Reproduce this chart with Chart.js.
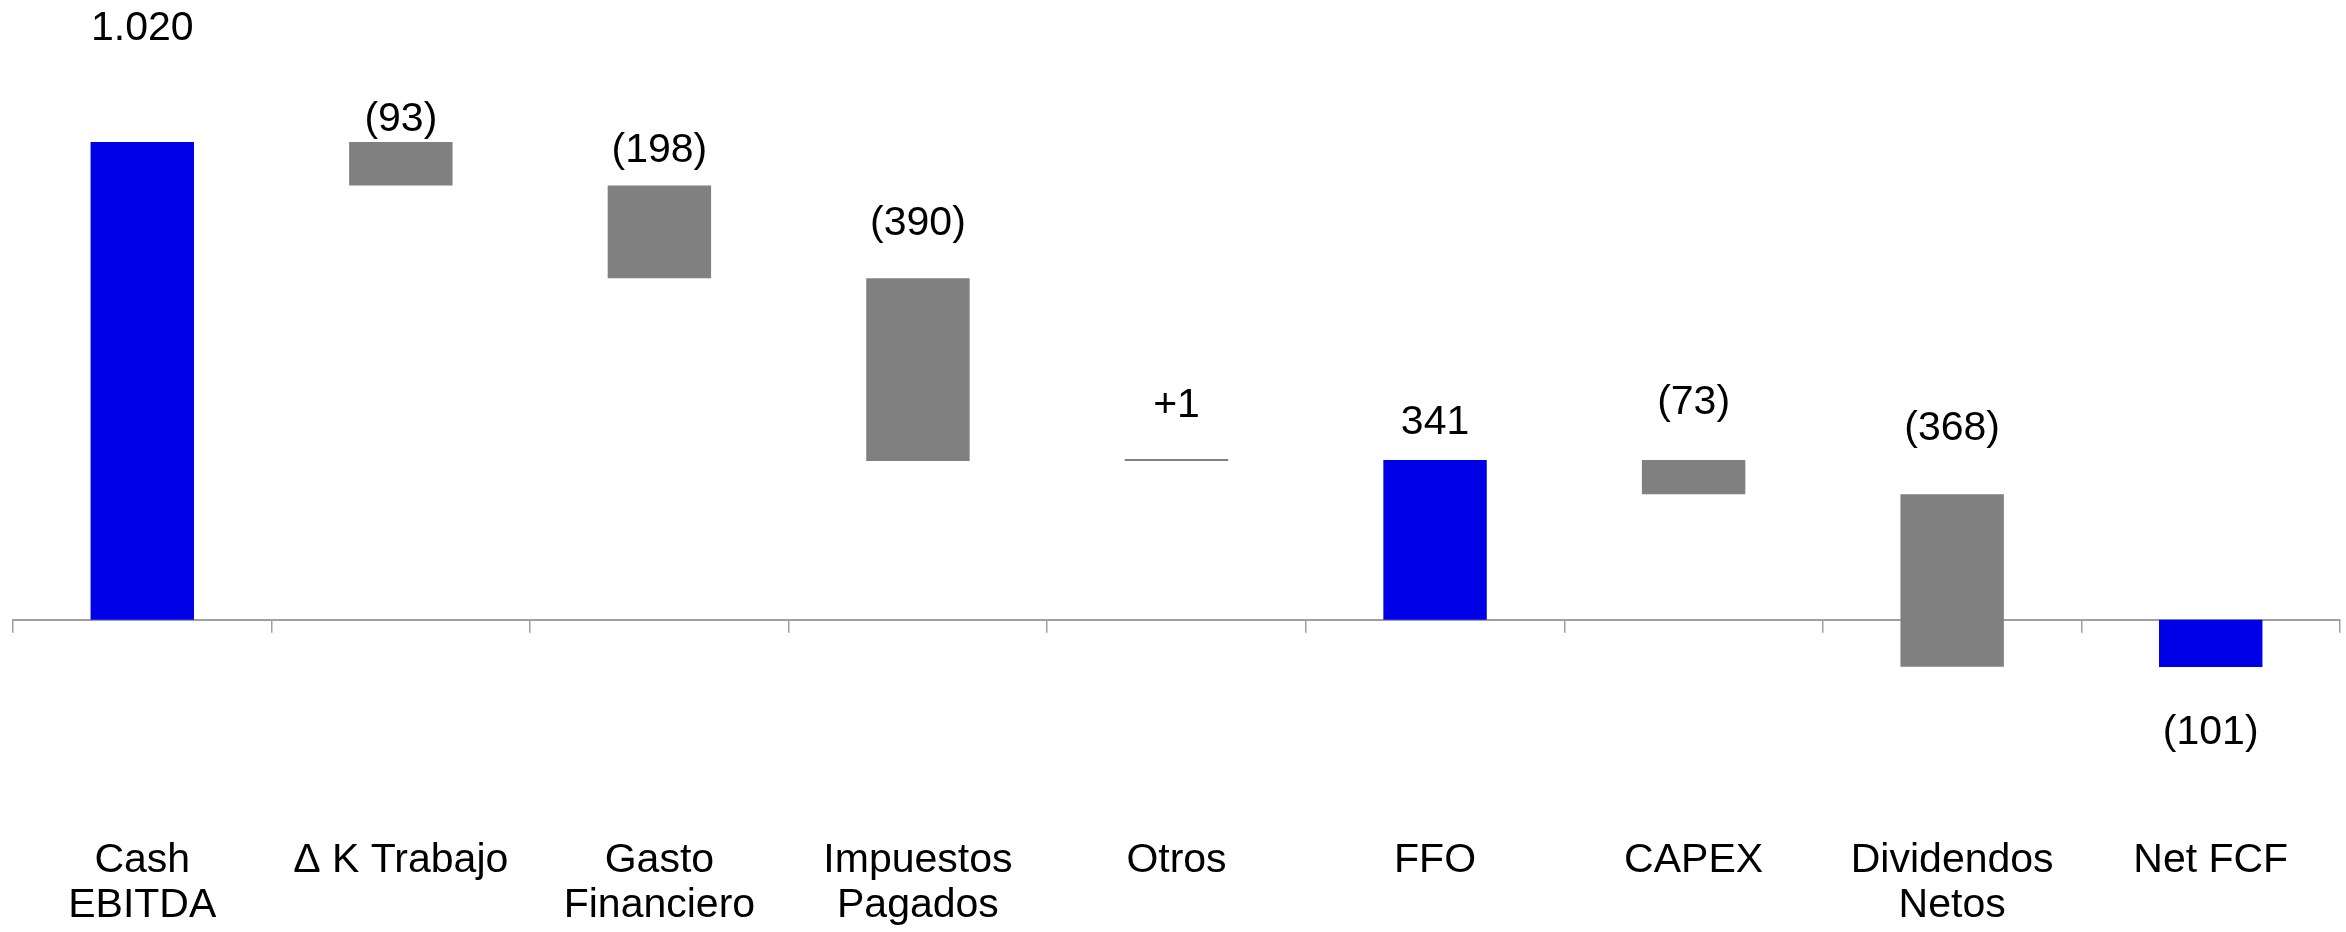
<!DOCTYPE html>
<html>
<head>
<meta charset="utf-8">
<script src="https://cdn.jsdelivr.net/npm/chart.js@4.4.0/dist/chart.umd.min.js"></script>
<style>
  html, body { margin: 0; padding: 0; background: #fff; }
  #wrap { width: 2346px; height: 932px; position: relative; }
</style>
</head>
<body>
<div id="wrap"><canvas id="waterfallChart"></canvas></div>
<script>
// categories and values
const categories = [['Cash', 'EBITDA'], ['\u0394 K Trabajo'], ['Gasto', 'Financiero'], ['Impuestos', 'Pagados'], ['Otros'], ['FFO'], ['CAPEX'], ['Dividendos', 'Netos'], ['Net FCF']];
const values = [1020, -93, -198, -390, 1, 341, -73, -368, -101];
const isTotal = [true, false, false, false, false, true, false, false, true];
// distance of each value label from its bar edge
const labelGap = [113, 22, 35, 55, 53, 37, 57, 66, 66];

const BLUE = '#0000e6';
const GREY = '#808080';
const TICK_LEN = 13;
const LABEL_PAD = 205;

// build floating bars for the waterfall
let running = 0;
const ranges = values.map((v, i) => {
    if (isTotal[i]) {
        running = v;
        return [0, v];
    }
    const start = running;
    running = running + v;
    return [start, running];
});

function formatValue(v, total) {
    const s = Math.abs(v).toString().replace(/\B(?=(\d{3})+(?!\d))/g, '.');
    if (v < 0) return '(' + s + ')';
    if (!total) return '+' + s;
    return s;
}

const valueLabels = {
    id: 'valueLabels',
    afterDatasetsDraw(chart) {
        const ctx = chart.ctx;
        const meta = chart.getDatasetMeta(0);
        ctx.save();
        ctx.font = '41px "Liberation Sans", Arial, sans-serif';
        ctx.fillStyle = '#000';
        ctx.textAlign = 'center';
        ctx.textBaseline = 'middle';
        meta.data.forEach((bar, i) => {
            const top = Math.min(bar.y, bar.base);
            const bottom = Math.max(bar.y, bar.base);
            const below = isTotal[i] && values[i] < 0;
            const y = below ? bottom + labelGap[i] : top - labelGap[i];
            ctx.fillText(formatValue(values[i], isTotal[i]), bar.x, y);
        });
        ctx.restore();
    }
};

const ctx = document.getElementById('waterfallChart').getContext('2d');
new Chart(ctx, {
    type: 'bar',
    data: {
        labels: categories,
        datasets: [{
            data: ranges,
            backgroundColor: isTotal.map(t => t ? BLUE : GREY),
            borderWidth: 0,
            borderSkipped: false,
            categoryPercentage: 1,
            barPercentage: 0.4,
            minBarLength: 2,
            clip: false
        }]
    },
    options: {
        responsive: true,
        maintainAspectRatio: false,
        animation: false,
        layout: { padding: { left: 13, right: 6, top: 0, bottom: 4 } },
        plugins: {
            legend: { display: false },
            tooltip: { enabled: false }
        },
        scales: {
            x: {
                position: 'bottom',
                offset: true,
                grid: {
                    offset: true,
                    drawOnChartArea: false,
                    drawTicks: true,
                    tickLength: TICK_LEN,
                    color: '#a0a0a0',
                    lineWidth: 1.5
                },
                border: { display: true, color: '#a0a0a0', width: 2 },
                ticks: {
                    color: '#000',
                    padding: LABEL_PAD,
                    maxRotation: 0,
                    autoSkip: false,
                    font: { family: '"Liberation Sans", Arial, sans-serif', size: 41, lineHeight: 1.1 }
                },
                // the big label padding should only push labels down, not widen the axis
                afterFit(scale) {
                    scale.height = TICK_LEN + LABEL_PAD + 2 * 41 * 1.1;
                    scale.paddingLeft = 0;
                    scale.paddingRight = 0;
                }
            },
            y: {
                display: false,
                min: 0,
                max: 1323
            }
        }
    },
    plugins: [valueLabels]
});
</script>
</body>
</html>
